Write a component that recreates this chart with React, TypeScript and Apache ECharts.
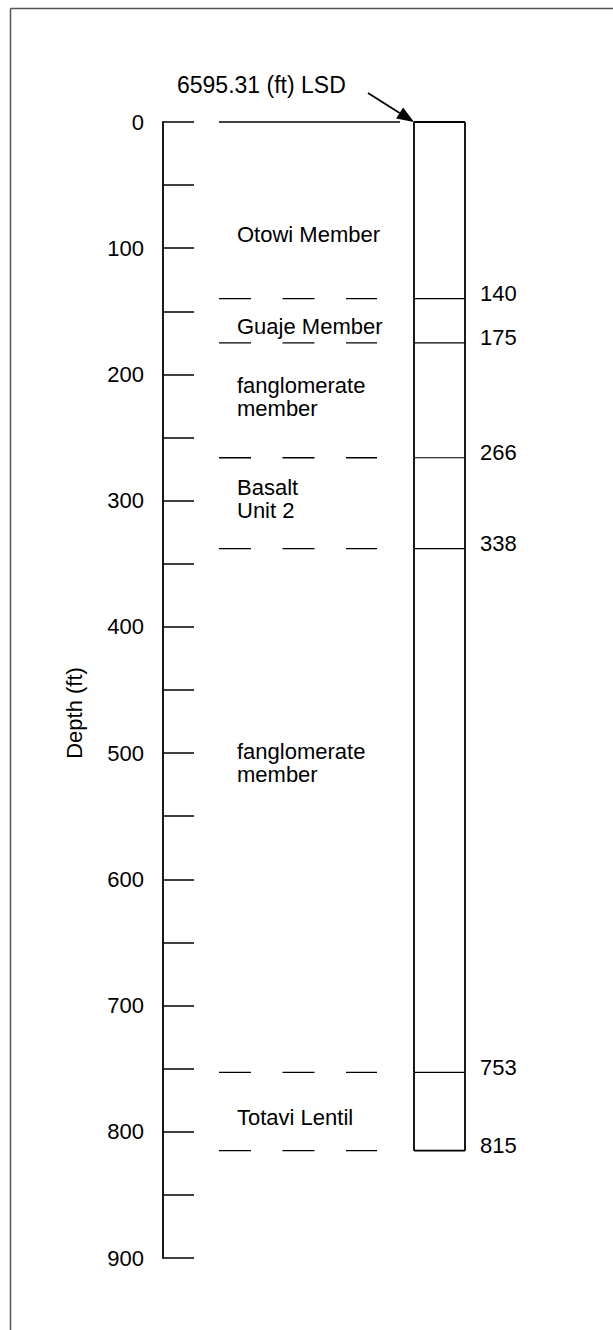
import React, { useEffect, useRef } from "react";
import * as echarts from "echarts";

// ---- data ----
const depthMin = 0;
const depthMax = 900;
const depthTickStep = 50;
const depthLabelStep = 100;

const unitNames = [
  "Otowi Member",
  "Guaje Member",
  "fanglomerate\nmember",
  "Basalt\nUnit 2",
  "fanglomerate\nmember",
  "Totavi Lentil",
];
const unitTops = [0, 140, 175, 266, 338, 753];
const unitBottoms = [140, 175, 266, 338, 753, 815];
const unitLabelDepths = [89, 162, 218, 299, 508, 789];
const surfaceLabel = "6595.31 (ft) LSD";
const surfaceLabelDepth = -29;
const arrowStartDepth = -23;

// ---- layout (x in pixel offsets from the axis line) ----
const FONT = "Liberation Sans, Arial, Helvetica, sans-serif";
const GRID_LEFT = 163;
const GRID_TOP = 122;
const GRID_HEIGHT = 1136;
const GRID_WIDTH = 302;
const COL_L = 251;
const COL_R = 302;
const DASH_L = 56;
const DASH_R = 214;
const GROUND_R = 237;
const NAME_X = 74;
const CONTACT_X = 317;
const SURF_TEXT_X = 14;
const ARROW_X0 = 205;

export default function App() {
  const ref = useRef<HTMLDivElement>(null);
  useEffect(() => {
    if (!ref.current) return;
    const chart = echarts.init(ref.current, null, { renderer: "svg" });
    const data = unitTops.map((t, i) => [t, unitBottoms[i], unitLabelDepths[i], i]);
    const black = "#000";
    const option: any = {
      animation: false,
      backgroundColor: "#fff",
      grid: { left: GRID_LEFT, top: GRID_TOP, width: GRID_WIDTH, height: GRID_HEIGHT },
      xAxis: { type: "value", min: 0, max: GRID_WIDTH, show: false },
      yAxis: {
        type: "value",
        inverse: true,
        min: depthMin,
        max: depthMax,
        interval: depthTickStep,
        name: "Depth (ft)",
        nameLocation: "middle",
        nameRotate: 90,
        nameGap: 78,
        nameTextStyle: { fontSize: 22, color: black, fontFamily: FONT, padding: [0, 46, 0, 0] },
        axisLine: { show: true, lineStyle: { color: black, width: 1.8 } },
        axisTick: { show: true, inside: true, length: 31, lineStyle: { color: black, width: 1.5 } },
        axisLabel: {
          fontSize: 22,
          color: black,
          fontFamily: FONT,
          margin: 19,
          formatter: (v: number) => (v % depthLabelStep === 0 ? String(v) : ""),
        },
        splitLine: { show: false },
      },
      graphic: [
        { type: "line", shape: { x1: 10.5, y1: 8.5, x2: 700, y2: 8.5 }, style: { stroke: "#555", lineWidth: 1.5 } },
        { type: "line", shape: { x1: 10.5, y1: 8.5, x2: 10.5, y2: 1400 }, style: { stroke: "#555", lineWidth: 1.5 } },
      ],
      series: [
        {
          type: "custom",
          clip: false,
          encode: { y: [0, 1] },
          data,
          renderItem: (params: any, api: any) => {
            const top = api.value(0);
            const bottom = api.value(1);
            const labelDepth = api.value(2);
            const idx = api.value(3);
            const isLast = idx === unitTops.length - 1;
            const pTL = api.coord([COL_L, top]);
            const pBR = api.coord([COL_R, bottom]);
            const yB = pBR[1];
            const children: any[] = [];
            children.push({ type: "line", shape: { x1: pTL[0], y1: pTL[1], x2: pTL[0], y2: yB }, style: { stroke: black, lineWidth: 1.8 } });
            children.push({ type: "line", shape: { x1: pBR[0], y1: pTL[1], x2: pBR[0], y2: yB }, style: { stroke: black, lineWidth: 1.8 } });
            children.push({ type: "line", shape: { x1: pTL[0], y1: yB, x2: pBR[0], y2: yB }, style: { stroke: black, lineWidth: isLast ? 1.8 : 1.2 } });
            const dL = api.coord([DASH_L, bottom]);
            const dR = api.coord([DASH_R, bottom]);
            children.push({ type: "line", shape: { x1: dL[0], y1: dL[1], x2: dR[0], y2: dR[1] }, style: { stroke: black, lineWidth: 1.3, lineDash: [32, 31.5] } });
            const cP = api.coord([CONTACT_X, bottom]);
            children.push({ type: "text", style: { text: String(bottom), x: cP[0], y: cP[1] - 5, fill: black, fontSize: 22, fontFamily: FONT, align: "left", verticalAlign: "middle" } });
            const nP = api.coord([NAME_X, labelDepth]);
            children.push({ type: "text", style: { text: unitNames[idx], x: nP[0], y: nP[1], fill: black, fontSize: 22, lineHeight: 23, fontFamily: FONT, align: "left", verticalAlign: "middle" } });
            if (idx === 0) {
              children.push({ type: "line", shape: { x1: pTL[0], y1: pTL[1], x2: pBR[0], y2: pTL[1] }, style: { stroke: black, lineWidth: 1.8 } });
              const gL = api.coord([DASH_L, top]);
              const gR = api.coord([GROUND_R, top]);
              children.push({ type: "line", shape: { x1: gL[0], y1: gL[1], x2: gR[0], y2: gR[1] }, style: { stroke: black, lineWidth: 1.5 } });
              const sP = api.coord([SURF_TEXT_X, surfaceLabelDepth]);
              children.push({ type: "text", style: { text: surfaceLabel, x: sP[0], y: sP[1], fill: black, fontSize: 23, fontFamily: FONT, align: "left", verticalAlign: "middle" } });
              const a0 = api.coord([ARROW_X0, arrowStartDepth]);
              const a1 = pTL;
              const dx = a1[0] - a0[0];
              const dy = a1[1] - a0[1];
              const len = Math.sqrt(dx * dx + dy * dy);
              const ux = dx / len;
              const uy = dy / len;
              const hl = 17;
              const hw = 6.5;
              const bx = a1[0] - ux * hl;
              const by = a1[1] - uy * hl;
              children.push({ type: "line", shape: { x1: a0[0], y1: a0[1], x2: bx, y2: by }, style: { stroke: black, lineWidth: 1.8 } });
              children.push({
                type: "polygon",
                shape: { points: [[a1[0], a1[1]], [bx - uy * hw, by + ux * hw], [bx + uy * hw, by - ux * hw]] },
                style: { fill: black },
              });
            }
            return { type: "group", children };
          },
        },
      ],
    };
    chart.setOption(option);
    return () => chart.dispose();
  }, []);
  return (
    <div
      ref={ref}
      style={{ position: "absolute", left: 0, top: 0, width: 613, height: 1330, background: "#fff" }}
    />
  );
}
